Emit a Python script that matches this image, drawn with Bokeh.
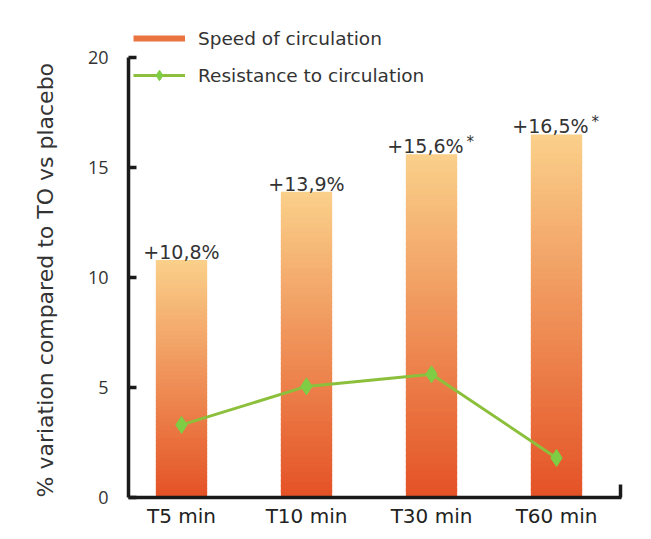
from bokeh.plotting import figure
from bokeh.models import Range1d, FixedTicker, Legend, LegendItem, ColumnDataSource, Title
from bokeh.core.properties import value
from bokeh.embed import file_html
from bokeh.resources import INLINE

# ---- data ----
categories = ["T5 min", "T10 min", "T30 min", "T60 min"]
speed = [10.8, 13.9, 15.6, 16.5]
resistance = [3.3, 5.05, 5.6, 1.8]
bar_labels = ["+10,8%", "+13,9%", "+15,6%", "+16,5%"]
stars = ["", "", "*", "*"]
y_ticks = [0, 5, 10, 15, 20]
y_title = "% variation compared to TO vs placebo"

xs = list(range(len(categories)))

p = figure(width=643, height=531, output_backend="svg", toolbar_location=None,
           x_range=Range1d(-0.424, 3.52), y_range=Range1d(0, 22.59))
p.min_border_left = 128
p.min_border_right = 22
p.min_border_top = 0
p.min_border_bottom = 34
p.outline_line_color = None
p.xgrid.visible = False
p.ygrid.visible = False
p.background_fill_color = "white"
p.border_fill_color = "white"

# ---- gradient bars (each bar split in thin slices, light top -> orange-red bottom) ----
top_rgb = (250, 208, 138)
bot_rgb = (228, 82, 38)
N = 60
bw = 0.41
L, R, B, T, C = [], [], [], [], []
for x, v in zip(xs, speed):
    for i in range(N):
        f = (i + 0.5) / N
        rgb = tuple(int(round(bot_rgb[k] + (top_rgb[k] - bot_rgb[k]) * f)) for k in range(3))
        L.append(x - bw / 2)
        R.append(x + bw / 2)
        B.append(v * i / N)
        T.append(v * min(i + 1.6, N) / N)
        C.append("#%02x%02x%02x" % rgb)
p.quad(left=L, right=R, bottom=B, top=T, fill_color=C, line_color=None)

# ---- resistance line ----
line_r = p.line(xs, resistance, line_color="#8cc03c", line_width=3)
mark_r = p.scatter(xs, resistance, marker="diamond", size=17,
                   fill_color="#7fcc45", line_color="#7fcc45")

# ---- bar labels ----
offsets = [-6 if s else 0 for s in stars]
src = ColumnDataSource(dict(x=xs, y=speed, t=bar_labels, s=stars, off=offsets,
                            soff=[o + 41 for o in offsets]))
p.text(x="x", y="y", text="t", source=src, x_offset="off", y_offset=-8,
       text_align="center", text_baseline="alphabetic",
       text_font=value("DejaVu Sans"), text_font_size="19px", text_color="#333333")
p.text(x="x", y="y", text="s", source=src, x_offset="soff", y_offset=-12,
       text_align="left", text_baseline="alphabetic",
       text_font=value("DejaVu Sans"), text_font_size="15px", text_color="#333333")

# ---- legend ----
nan = float("nan")
swatch = p.line(x=[nan], y=[nan], line_color="#ea7440", line_width=6)
legend = Legend(items=[
    LegendItem(label="Speed of circulation", renderers=[swatch]),
    LegendItem(label="Resistance to circulation", renderers=[line_r, mark_r]),
], location=(5, 409))
legend.border_line_color = None
legend.background_fill_alpha = 0
legend.glyph_width = 52
legend.glyph_height = 26
legend.label_height = 26
legend.spacing = 11
legend.padding = 0
legend.margin = 0
legend.label_standoff = 13
legend.label_text_font = "DejaVu Sans"
legend.label_text_font_size = "18.5px"
legend.label_text_color = "#333333"
p.add_layout(legend, "center")

# ---- axes ----
ax = p.xaxis[0]
ax.ticker = FixedTicker(ticks=xs, minor_ticks=[3.51])
ax.major_label_overrides = {i: c for i, c in zip(xs, categories)}
ax.major_tick_in = 0
ax.major_tick_out = 0
ax.minor_tick_in = 13
ax.minor_tick_out = 0
ax.minor_tick_line_width = 3.5
ax.minor_tick_line_color = "#1a1a1a"
ax.axis_line_width = 3.5
ax.axis_line_color = "#1a1a1a"
ax.major_label_text_font = "DejaVu Sans"
ax.major_label_text_font_size = "20px"
ax.major_label_text_color = "#222222"
ax.major_label_standoff = 6

ay = p.yaxis[0]
ay.ticker = FixedTicker(ticks=y_ticks, minor_ticks=[])
ay.bounds = (0, 20)
ay.major_tick_in = 8
ay.major_tick_out = 0
ay.major_tick_line_width = 3.5
ay.major_tick_line_color = "#1a1a1a"
ay.axis_line_width = 3.5
ay.axis_line_color = "#1a1a1a"
ay.major_label_text_font = "Open Sans"
ay.major_label_text_font_size = "18px"
ay.major_label_text_color = "#333333"
ay.major_label_standoff = 20

# y-axis title as a left-side title so it can sit on the 0..20 span
yt = Title(text=y_title, align="left", offset=0, standoff=53,
           text_font="DejaVu Sans", text_font_size="22px",
           text_font_style="normal", text_color="#333333")
p.add_layout(yt, "left")

open("out.html", "w").write(file_html(p, INLINE))
